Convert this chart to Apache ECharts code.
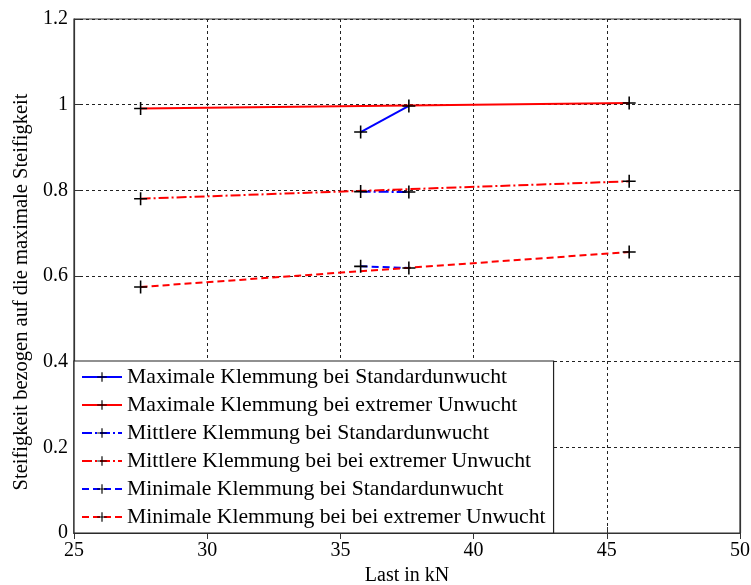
<!DOCTYPE html>
<html>
<head>
<meta charset="utf-8">
<script src="https://cdn.jsdelivr.net/npm/echarts@6/dist/echarts.min.js"></script>
<style>html,body{margin:0;padding:0;background:#fff;}#c{width:751px;height:585px;}</style>
</head>
<body>
<div id="c"></div>
<script>
// Data (Last in kN, relative stiffness)
const seriesNames = [
  'Maximale Klemmung bei Standardunwucht',
  'Maximale Klemmung bei extremer Unwucht',
  'Mittlere Klemmung bei Standardunwucht',
  'Mittlere Klemmung bei bei extremer Unwucht',
  'Minimale Klemmung bei Standardunwucht',
  'Minimale Klemmung bei bei extremer Unwucht'
];
const maxStandard = [[35.76, 0.936], [37.57, 0.997]];
const maxExtreme = [[27.5, 0.991], [45.84, 1.004]];
const midStandard = [[35.76, 0.797], [37.57, 0.796]];
const midExtreme = [[27.5, 0.7805], [45.84, 0.821]];
const minStandard = [[35.76, 0.6225], [37.57, 0.6187]];
const minExtreme = [[27.5, 0.5744], [45.84, 0.656]];
const xTicks = [25, 30, 35, 40, 45, 50];
const yTicks = [0, 0.2, 0.4, 0.6, 0.8, 1, 1.2];

const FONT = 'Liberation Serif';
const PLUS = 'path://M-1,-0.12 L-0.12,-0.12 L-0.12,-1 L0.12,-1 L0.12,-0.12 L1,-0.12 L1,0.12 L0.12,0.12 L0.12,1 L-0.12,1 L-0.12,0.12 L-1,0.12 Z';
const DASHDOT = [10, 3, 2, 3];
const DASH = [7, 4];

function mk(name, data, color, type) {
  return {
    name: name, type: 'line', data: data,
    xAxisIndex: 0, yAxisIndex: 0,
    symbol: PLUS, symbolSize: 13, showSymbol: true,
    lineStyle: { color: color, width: 2, type: type },
    itemStyle: { color: '#000', borderWidth: 0 },
    animation: false, z: 3
  };
}

const chart = echarts.init(document.getElementById('c'), null, { renderer: 'canvas' });
chart.setOption({
  backgroundColor: '#fff',
  animation: false,
  grid: { left: 74, right: 11, top: 19, bottom: 52, containLabel: false, outerBoundsMode: 'none',
    show: true, borderColor: '#333', borderWidth: 1.2, backgroundColor: 'transparent' },
  legend: {
    data: seriesNames,
    orient: 'vertical', left: 74, top: 361,
    padding: [5, 8, 5, 7],
    itemGap: 6, itemWidth: 40, itemHeight: 12,
    backgroundColor: '#fff', borderColor: '#222', borderWidth: 1.2, borderRadius: 0,
    textStyle: { fontFamily: FONT, fontSize: 21.7, color: '#000' },
    selectedMode: false
  },
  xAxis: [{
    type: 'value', min: xTicks[0], max: xTicks[xTicks.length - 1], interval: 5,
    name: 'Last in kN', nameLocation: 'middle', nameGap: 31,
    nameTextStyle: { fontFamily: FONT, fontSize: 20, color: '#000' },
    axisLine: { show: true, lineStyle: { color: '#333', width: 1.2 } },
    axisTick: { show: true, inside: true, length: 6, lineStyle: { color: '#333' } },
    axisLabel: { fontFamily: FONT, fontSize: 20, color: '#000', margin: 8 },
    splitLine: { show: true, lineStyle: { color: '#222', type: [3, 3], width: 1 } }
  }, {
    type: 'value', position: 'top', min: xTicks[0], max: xTicks[xTicks.length - 1], interval: 5,
    axisLine: { show: true, lineStyle: { color: '#333', width: 1.2 } },
    axisTick: { show: true, inside: true, length: 6, lineStyle: { color: '#333' } },
    axisLabel: { show: false }, splitLine: { show: false }
  }],
  yAxis: [{
    type: 'value', min: yTicks[0], max: yTicks[yTicks.length - 1], interval: 0.2,
    name: 'Steifigkeit bezogen auf die maximale Steifigkeit', nameLocation: 'middle', nameGap: 42,
    nameTextStyle: { fontFamily: FONT, fontSize: 20.5, color: '#000', padding: [0, 32, 0, 0] },
    axisLine: { show: true, lineStyle: { color: '#333', width: 1.2 } },
    axisTick: { show: true, inside: true, length: 6, lineStyle: { color: '#333' } },
    axisLabel: { fontFamily: FONT, fontSize: 20, color: '#000', margin: 6,
      formatter: function (v) { return String(Math.round(v * 10) / 10); } },
    splitLine: { show: true, lineStyle: { color: '#222', type: [3, 3], width: 1 } }
  }, {
    type: 'value', position: 'right', min: yTicks[0], max: yTicks[yTicks.length - 1], interval: 0.2,
    axisLine: { show: true, lineStyle: { color: '#333', width: 1.2 } },
    axisTick: { show: true, inside: true, length: 6, lineStyle: { color: '#333' } },
    axisLabel: { show: false }, splitLine: { show: false }
  }],
  series: [
    mk(seriesNames[0], maxStandard, '#0000ff', 'solid'),
    mk(seriesNames[1], maxExtreme, '#ff0000', 'solid'),
    mk(seriesNames[2], midStandard, '#0000ff', DASHDOT),
    mk(seriesNames[3], midExtreme, '#ff0000', DASHDOT),
    mk(seriesNames[4], minStandard, '#0000ff', DASH),
    mk(seriesNames[5], minExtreme, '#ff0000', DASH)
  ]
});
</script>
</body>
</html>
